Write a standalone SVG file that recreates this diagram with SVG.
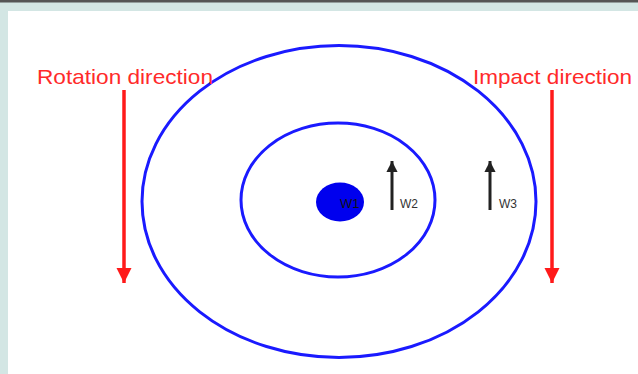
<svg xmlns="http://www.w3.org/2000/svg" width="638" height="374" viewBox="0 0 638 374">
<style>
.ring{fill:none;stroke:#1a1aff;stroke-width:3}
.red{font-family:"Liberation Sans",Arial,sans-serif;font-size:21px;fill:#ff2a2a}
.lbl{font-family:"Liberation Sans",Arial,sans-serif;font-size:12px;fill:#333}
.rline{stroke:#ff1a1a;stroke-width:3.5}
.bline{stroke:#222;stroke-width:3}
</style>
<defs>
<marker id="rh" viewBox="0 0 10 10" refX="10" refY="5" markerWidth="4.3" markerHeight="4.3" markerUnits="strokeWidth" orient="auto"><path d="M0,0L10,5L0,10z" fill="#ff1a1a"/></marker>
<marker id="bh" viewBox="0 0 10 10" refX="10" refY="5" markerWidth="4.5" markerHeight="3.7" markerUnits="strokeWidth" orient="auto"><path d="M0,0L10,5L0,10z" fill="#222"/></marker>
</defs>
<rect x="0" y="0" width="638" height="374" fill="#d3e6e4"/>
<rect x="0" y="0" width="638" height="2.5" fill="#555"/>
<rect x="8" y="11" width="630" height="363" fill="#fff"/>
<g id="outer"><ellipse class="ring" cx="339" cy="201.5" rx="197" ry="156"/></g>
<g id="inner"><ellipse class="ring" cx="338" cy="200" rx="97" ry="77"/></g>
<g id="w1"><ellipse cx="340" cy="202" rx="24" ry="19.5" fill="#0000ee"/><text class="lbl" x="340" y="208" style="fill:#111;font-size:13px">W1</text></g>
<g id="connectors">
<line class="rline" x1="124" y1="90" x2="124" y2="283" marker-end="url(#rh)"/>
<line class="rline" x1="552" y1="90" x2="552" y2="283" marker-end="url(#rh)"/>
<line class="bline" x1="392" y1="210" x2="392" y2="161" marker-end="url(#bh)"/>
<line class="bline" x1="490" y1="210" x2="490" y2="161" marker-end="url(#bh)"/>
</g>
<g id="rotation"><text class="red" x="37" y="84" textLength="176" lengthAdjust="spacingAndGlyphs">Rotation direction</text></g>
<g id="impact"><text class="red" x="473" y="84" textLength="159" lengthAdjust="spacingAndGlyphs">Impact direction</text></g>
<g id="w2"><text class="lbl" x="400" y="208">W2</text></g>
<g id="w3"><text class="lbl" x="499" y="208">W3</text></g>
</svg>
